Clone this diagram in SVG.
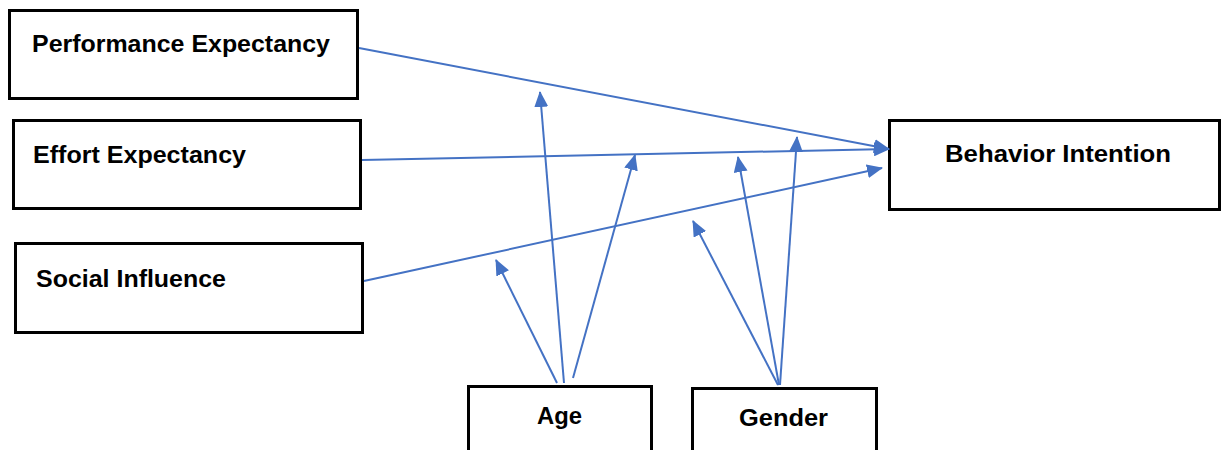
<svg xmlns="http://www.w3.org/2000/svg" width="1221" height="450" viewBox="0 0 1221 450">
<style>
.box{fill:#fff;stroke:#000;stroke-width:3}
.lbl{font-family:"Liberation Sans",Arial,sans-serif;font-weight:bold;font-size:24px;fill:#000}
.conn{stroke:#4472C4;stroke-width:2;fill:none;marker-end:url(#ah)}
</style>
<defs>
<marker id="ah" markerUnits="userSpaceOnUse" markerWidth="16" markerHeight="14" refX="15" refY="7" orient="auto">
<path d="M0,0 L16,7 L0,14 z" fill="#4472C4"/>
</marker>
</defs>
<rect width="1221" height="450" fill="#fff"/>
<g id="pe"><rect class="box" x="9.5" y="10.5" width="348" height="88"/><text class="lbl" x="32" y="52" textLength="298" lengthAdjust="spacingAndGlyphs">Performance Expectancy</text></g>
<g id="ee"><rect class="box" x="13.5" y="120.5" width="347" height="88"/><text class="lbl" x="33" y="163" textLength="213" lengthAdjust="spacingAndGlyphs">Effort Expectancy</text></g>
<g id="si"><rect class="box" x="15.5" y="243.5" width="347" height="89"/><text class="lbl" x="36" y="287" textLength="190" lengthAdjust="spacingAndGlyphs">Social Influence</text></g>
<g id="bi"><rect class="box" x="889.5" y="120.5" width="330" height="89"/><text class="lbl" x="945" y="162" textLength="226" lengthAdjust="spacingAndGlyphs">Behavior Intention</text></g>
<g id="age"><rect class="box" x="468.5" y="386.5" width="183" height="70"/><text class="lbl" x="537" y="424" textLength="45" lengthAdjust="spacingAndGlyphs">Age</text></g>
<g id="gender"><rect class="box" x="692.5" y="388.5" width="184" height="70"/><text class="lbl" x="739" y="426" textLength="89" lengthAdjust="spacingAndGlyphs">Gender</text></g>
<g id="connectors">
<line class="conn" x1="359" y1="48" x2="889" y2="149"/>
<line class="conn" x1="362" y1="160" x2="889" y2="149"/>
<line class="conn" x1="364" y1="281" x2="882" y2="168"/>
<line class="conn" x1="557" y1="383" x2="496" y2="260"/>
<line class="conn" x1="564" y1="383" x2="540" y2="92"/>
<line class="conn" x1="573" y1="378" x2="635" y2="155"/>
<line class="conn" x1="778" y1="385" x2="693" y2="221"/>
<line class="conn" x1="779" y1="385" x2="738" y2="157"/>
<line class="conn" x1="780" y1="385" x2="797" y2="137"/>
</g>
</svg>
